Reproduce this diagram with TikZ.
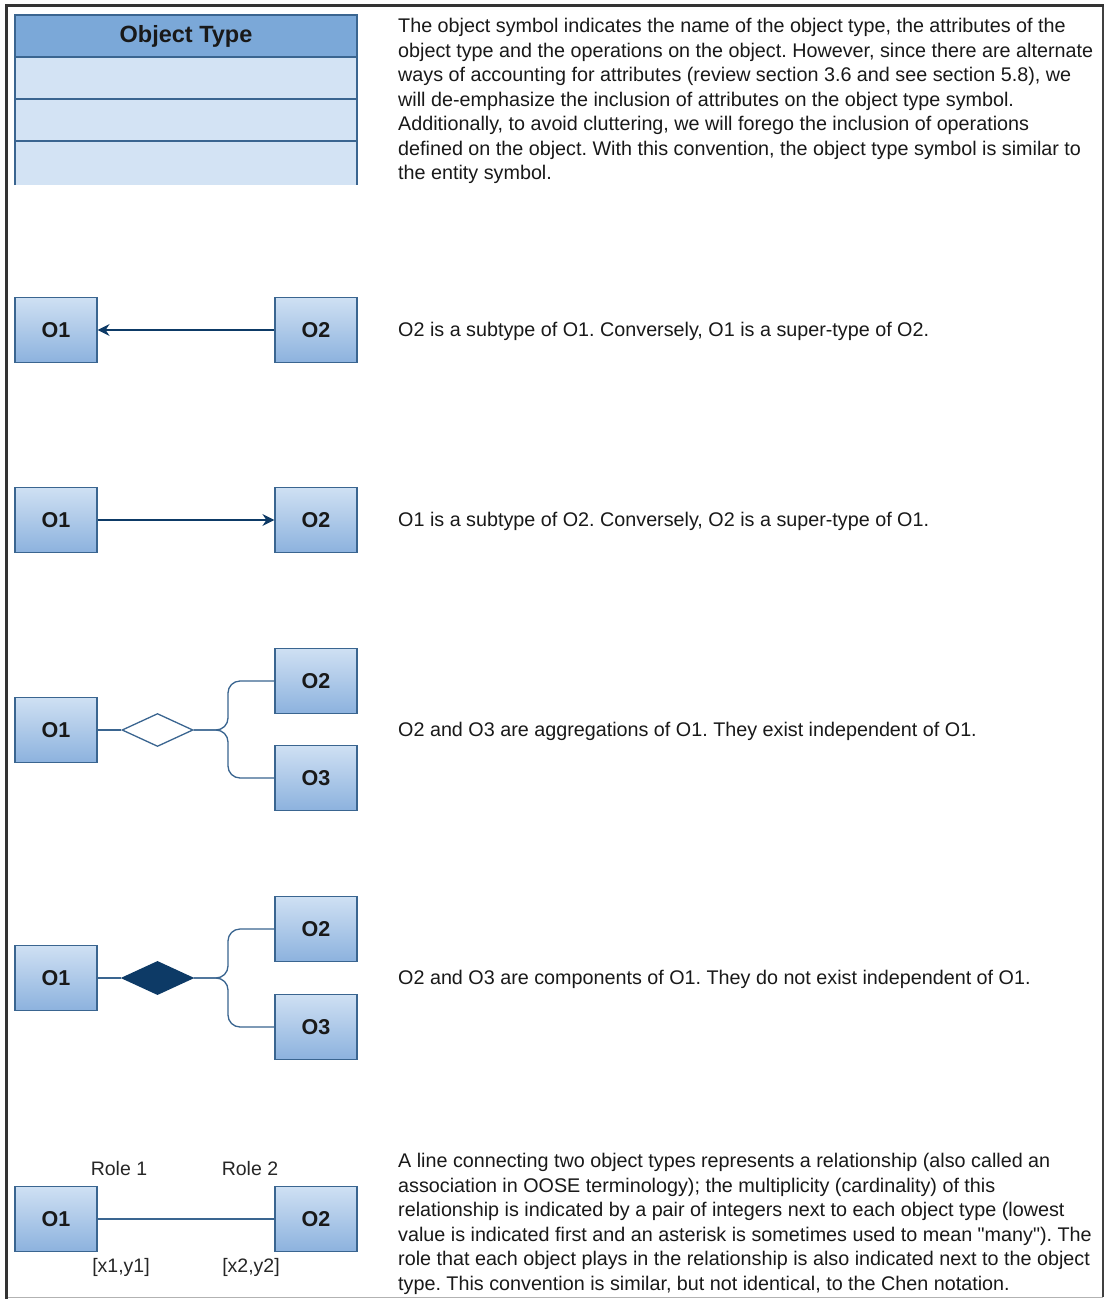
\documentclass[tikz,border=0pt]{standalone}
\usepackage{fontspec}
\setmainfont{Liberation Sans}
% same face without the TeX quote ligatures, for straight quotes
\newfontfamily\straightq{Liberation Sans}
\usetikzlibrary{arrows.meta,shapes.geometric}
\definecolor{edgeblue}{HTML}{3A6590}
\definecolor{navy}{HTML}{0D3A66}
\definecolor{boxtop}{HTML}{CFE0F3}
\definecolor{boxbot}{HTML}{8CB2DE}
\definecolor{hdrblue}{HTML}{7BA8D8}
\definecolor{rowblue}{HTML}{D3E3F4}
\tikzset{
  obj/.style={draw=edgeblue, line width=1.2pt, top color=boxtop, bottom color=boxbot,
    minimum width=82pt, minimum height=65pt, inner sep=0pt,
    font=\fontsize{21.5}{24}\selectfont\bfseries, text=black!90},
  hdr/.style={draw=edgeblue, line width=1.2pt, fill=hdrblue, minimum width=342pt,
    minimum height=42pt, inner sep=0pt, font=\fontsize{23.5}{26}\selectfont\bfseries,
    text=black!90},
  row/.style={draw=edgeblue, line width=1.2pt, fill=rowblue, minimum width=342pt,
    minimum height=42pt, inner sep=0pt},
  conn/.style={draw=edgeblue, line width=1.3pt},
  desc/.style={anchor=west, inner sep=0pt, align=left, text=black!90,
    font=\fontsize{19.75}{24.5}\selectfont},
  lbl/.style={inner sep=0pt, text=black!85, font=\fontsize{19.5}{22}\selectfont},
  agg/.style={diamond, draw=edgeblue, line width=1.3pt, minimum width=71pt,
    minimum height=33pt, inner sep=0pt, aspect=2.15},
  arr/.style={conn, -{Stealth[length=12pt,width=12pt,inset=4pt]}, navy}
}
\newcommand{\sq}{{\straightq"}}
\begin{document}
\frenchspacing
\begin{tikzpicture}[x=1pt,y=-1pt]
\useasboundingbox (0,0) rectangle (1106,1299);
\fill[white] (0,0) rectangle (1106,1299);
% page frame
\draw[gray!60, line width=1pt] (6,1297) -- (1103,1297);
\draw[black!75, line width=1.2pt] (1103,5) -- (1103,1297);
\draw[black!80, line width=3pt] (6,1299) -- (6,5) -- (1104,5);

% object type symbol
\node[hdr] (hdr) at (186,36) {Object Type};
\node[row] (r1) at (186,78) {};
\node[row] (r2) at (186,120) {};
\fill[rowblue] (15,141) rectangle (357,185);
\draw[edgeblue, line width=1.2pt] (15,185) -- (15,141) -- (357,141) -- (357,185);
\node[desc, anchor=north west] (t0) at (398,18) {The object symbol indicates the name of the object type, the attributes of the\\
object type and the operations on the object. However, since there are alternate\\
ways of accounting for attributes (review section 3.6 and see section 5.8), we\\
will de-emphasize the inclusion of attributes on the object type symbol.\\
Additionally, to avoid cluttering, we will forego the inclusion of operations\\
defined on the object. With this convention, the object type symbol is similar to\\
the entity symbol.};

% subtype: O2 -> O1
\node[obj] (a1) at (56,330) {O1};
\node[obj] (a2) at (316,330) {O2};
\draw[arr] (a2) -- (a1);
\node[desc] (t1) at (398,331) {O2 is a subtype of O1. Conversely, O1 is a super-type of O2.};

% subtype: O1 -> O2
\node[obj] (b1) at (56,520) {O1};
\node[obj] (b2) at (316,520) {O2};
\draw[arr] (b1) -- (b2);
\node[desc] (t2) at (398,521) {O1 is a subtype of O2. Conversely, O2 is a super-type of O1.};

% aggregation
\node[obj] (c1) at (56,730) {O1};
\node[obj] (c2) at (316,681) {O2};
\node[obj] (c3) at (316,778) {O3};
\node[agg, fill=white] (cd) at (157.5,730) {};
\coordinate (cb) at (228,730);
\draw[conn] (c1) -- (cd);
\draw[conn, rounded corners=12pt] (cd.east) -- (cb) |- (c2.west);
\draw[conn, rounded corners=12pt] (cd.east) -- (cb) |- (c3.west);
\node[desc] (t3) at (398,731) {O2 and O3 are aggregations of O1. They exist independent of O1.};

% composition
\node[obj] (d1) at (56,978) {O1};
\node[obj] (d2) at (316,929) {O2};
\node[obj] (d3) at (316,1027) {O3};
\node[agg, fill=navy, draw=navy] (dd) at (157.5,978) {};
\coordinate (db) at (228,978);
\draw[conn] (d1) -- (dd);
\draw[conn, rounded corners=12pt] (dd.east) -- (db) |- (d2.west);
\draw[conn, rounded corners=12pt] (dd.east) -- (db) |- (d3.west);
\node[desc] (t4) at (398,979) {O2 and O3 are components of O1. They do not exist independent of O1.};

% association
\node[obj] (e1) at (56,1219) {O1};
\node[obj] (e2) at (316,1219) {O2};
\draw[conn] (e1) -- (e2);
\node[lbl] (role1) at (119,1169) {Role 1};
\node[lbl] (role2) at (250,1169) {Role 2};
\node[lbl] (m1) at (121,1267) {[x1,y1]};
\node[lbl] (m2) at (251,1267) {[x2,y2]};
\node[desc, anchor=north west] (t5) at (398,1153) {A line connecting two object types represents a relationship (also called an\\
association in OOSE terminology); the multiplicity (cardinality) of this\\
relationship is indicated by a pair of integers next to each object type (lowest\\
value is indicated first and an asterisk is sometimes used to mean \sq many\sq). The\\
role that each object plays in the relationship is also indicated next to the object\\
type. This convention is similar, but not identical, to the Chen notation.};
\end{tikzpicture}
\end{document}
